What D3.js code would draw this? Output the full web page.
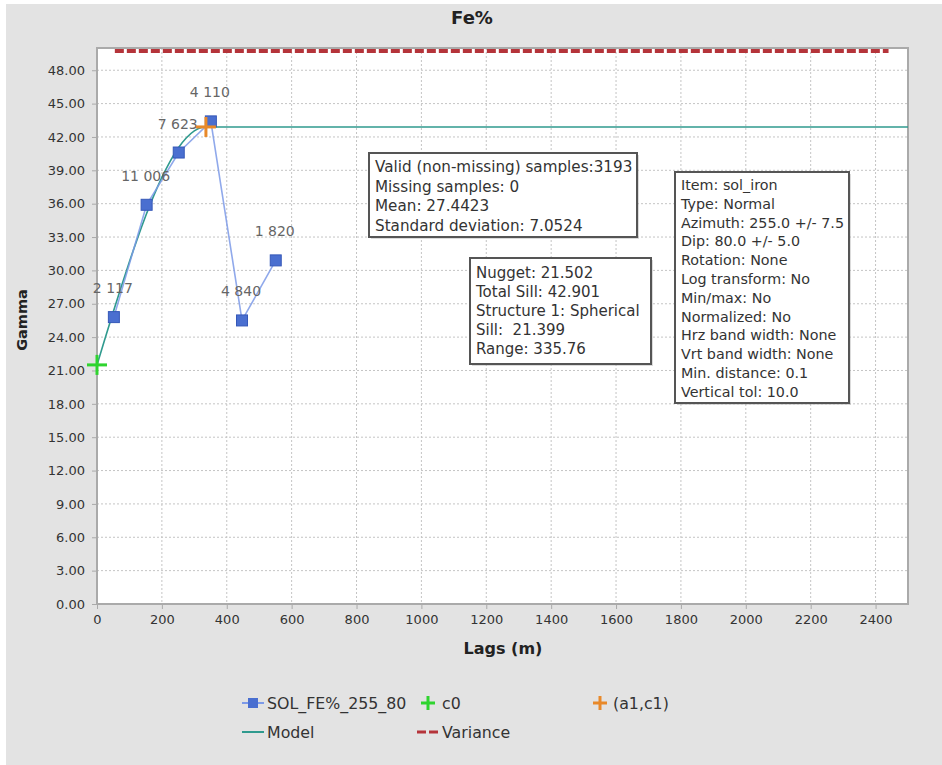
<!DOCTYPE html>
<html><head><meta charset="utf-8">
<script src="https://cdn.jsdelivr.net/npm/d3@7"></script>
<style>
html,body{margin:0;padding:0;background:#fff;}
svg text{font-family:"DejaVu Sans",Verdana,sans-serif;white-space:pre;}
</style></head>
<body><svg id="c" width="942" height="765"></svg>
<script>
// ---- data ----
const lags = [52, 153, 252, 351, 447, 551];
const gammaValues = [25.8, 35.9, 40.6, 43.4, 25.5, 30.9];
const pairCounts = ["2 117", "11 006", "7 623", "4 110", "4 840", "1 820"];
const nugget = 21.502, totalSill = 42.901, rangeA = 335.76;
const modelLags = [0, 25, 50, 75, 100, 125, 150, 175, 200, 225, 250, 275, 300, 325, 335.76];
const modelGamma = [21.50, 23.89, 26.25, 28.55, 30.78, 32.90, 34.89, 36.72, 38.36, 39.79, 40.99, 41.91, 42.55, 42.87, 42.90];
const modelFlatEnd = 2500;
const varianceValue = 49.74;
const varianceSpan = [55, 2440];
const xTicks = [0,200,400,600,800,1000,1200,1400,1600,1800,2000,2200,2400];
const yTicks = [0,3,6,9,12,15,18,21,24,27,30,33,36,39,42,45,48];
const statsText = ["Valid (non-missing) samples:3193","Missing samples: 0","Mean: 27.4423","Standard deviation: 7.0524"];
const modelText = ["Nugget: 21.502","Total Sill: 42.901","Structure 1: Spherical","Sill:  21.399","Range: 335.76"];
const paramText = ["Item: sol_iron","Type: Normal","Azimuth: 255.0 +/- 7.5","Dip: 80.0 +/- 5.0","Rotation: None","Log transform: No","Min/max: No","Normalized: No","Hrz band width: None","Vrt band width: None","Min. distance: 0.1","Vertical tol: 10.0"];

// ---- layout ----
const svg = d3.select("#c");
const L = 97, R = 908, T = 48, B = 604;
const x = d3.scaleLinear().domain([0, 2500]).range([L, R]);
const y = d3.scaleLinear().domain([0, 50]).range([B, T]);

svg.append("rect").attr("x",6).attr("y",4).attr("width",936).attr("height",761).attr("fill","#e3e3e3");
svg.append("rect").attr("x",L).attr("y",T).attr("width",R-L).attr("height",B-T).attr("fill","#fff");

// grid
const grid = svg.append("g");
grid.selectAll(".gx").data(xTicks).join("line")
  .attr("x1",d=>x(d)).attr("x2",d=>x(d)).attr("y1",T).attr("y2",B)
  .attr("stroke","#c4c4c4").attr("stroke-dasharray","2,2");
grid.selectAll(".gy").data(yTicks).join("line")
  .attr("x1",L).attr("x2",R).attr("y1",d=>y(d)).attr("y2",d=>y(d))
  .attr("stroke","#c4c4c4").attr("stroke-dasharray","2,2");

// border
svg.append("rect").attr("x",L).attr("y",T).attr("width",R-L).attr("height",B-T)
  .attr("fill","none").attr("stroke","#aaaaaa").attr("stroke-width",2);

// axes
const xa = svg.append("g").attr("transform",`translate(0,${B+1})`)
  .call(d3.axisBottom(x).tickValues(xTicks).tickFormat(d3.format("d")).tickSize(4).tickPadding(6));
const ya = svg.append("g").attr("transform",`translate(${L-1},0)`)
  .call(d3.axisLeft(y).tickValues(yTicks).tickFormat(d3.format(".2f")).tickSize(4).tickPadding(7));
[xa,ya].forEach(a=>{
  a.select(".domain").remove();
  a.selectAll("line").attr("stroke","#aaa");
  a.selectAll("text").attr("fill","#333").style("font-size","13px").style("font-family","DejaVu Sans, Verdana, sans-serif");
});

// titles
svg.append("text").attr("x",472).attr("y",24).attr("text-anchor","middle")
  .style("font-size","18px").style("font-weight","bold").attr("fill","#222").text("Fe%");
svg.append("text").attr("x",503).attr("y",654).attr("text-anchor","middle")
  .style("font-size","16px").style("font-weight","bold").attr("fill","#222").text("Lags (m)");
svg.append("text").attr("transform","translate(27,320) rotate(-90)").attr("text-anchor","middle")
  .style("font-size","14.5px").style("font-weight","bold").attr("fill","#222").text("Gamma");

// variance
svg.append("line").attr("x1",x(varianceSpan[0])).attr("x2",x(varianceSpan[1]))
  .attr("y1",y(varianceValue)).attr("y2",y(varianceValue))
  .attr("stroke","#b5343a").attr("stroke-width",4).attr("stroke-dasharray","9,3");

// model
const modelPts = modelLags.map((d,i)=>[d,modelGamma[i]]);
svg.append("path").datum(modelPts)
  .attr("d",d3.line().x(d=>x(d[0])).y(d=>y(d[1])).curve(d3.curveMonotoneX))
  .attr("fill","none").attr("stroke","#2f9a8e").attr("stroke-width",1.6);
svg.append("line").attr("x1",x(rangeA)).attr("x2",x(modelFlatEnd))
  .attr("y1",y(totalSill)).attr("y2",y(totalSill))
  .attr("stroke","#2f9a8e").attr("stroke-width",1.6);

// experimental
const pts = lags.map((d,i)=>[d,gammaValues[i]]);
svg.append("path").datum(pts)
  .attr("d",d3.line().x(d=>x(d[0])).y(d=>y(d[1])))
  .attr("fill","none").attr("stroke","#7d9ae8").attr("stroke-width",1.6).attr("opacity",0.85);
svg.selectAll(".pt").data(pts).join("rect")
  .attr("x",d=>x(d[0])-5.5).attr("y",d=>y(d[1])-5.5).attr("width",11).attr("height",11)
  .attr("fill","#4a6fd0").attr("stroke","#3558b8").attr("stroke-width",1);
svg.selectAll(".lbl").data(pts).join("text")
  .attr("x",d=>x(d[0])-1).attr("y",d=>y(d[1])-24).attr("text-anchor","middle")
  .style("font-size","14px").attr("fill","#666").text((d,i)=>pairCounts[i]);

// crosses
function cross(g,cx,cy,s,col,w){
  g.append("line").attr("x1",cx-s).attr("x2",cx+s).attr("y1",cy).attr("y2",cy).attr("stroke",col).attr("stroke-width",w);
  g.append("line").attr("x1",cx).attr("x2",cx).attr("y1",cy-s).attr("y2",cy+s).attr("stroke",col).attr("stroke-width",w);
}
cross(svg,x(0),y(nugget),10,"#2fd42f",3);
cross(svg,x(rangeA),y(totalSill),10,"#e8892a",3);

// text boxes
function box(x0,y0,w,h,lines,lh,startY,fs){
  const g = svg.append("g");
  g.append("rect").attr("x",x0+2).attr("y",y0+2).attr("width",w).attr("height",h).attr("fill","#999").attr("opacity",0.35);
  g.append("rect").attr("x",x0).attr("y",y0).attr("width",w).attr("height",h).attr("fill","#fff").attr("stroke","#555").attr("stroke-width",2);
  g.selectAll("text").data(lines).join("text")
    .attr("x",x0+6).attr("y",(d,i)=>y0+startY+i*lh)
    .style("font-size",fs+"px").attr("fill","#333").text(d=>d);
}
box(369,153,268,84,statsText,19.5,19,15.2);
box(470,258,181,106,modelText,19,20,15);
box(675,172,174,231,paramText,18.8,18,14.3);

// legend
const lg = svg.append("g");
const lfs = "15.8px";
lg.append("line").attr("x1",242).attr("x2",264).attr("y1",703).attr("y2",703).attr("stroke","#7d9ae8").attr("stroke-width",2);
lg.append("rect").attr("x",248).attr("y",698).attr("width",10).attr("height",10).attr("fill","#4a6fd0");
lg.append("text").attr("x",267).attr("y",709).style("font-size",lfs).attr("fill","#333").text("SOL_FE%_255_80");
cross(lg,428,703,7,"#2fd42f",3);
lg.append("text").attr("x",442).attr("y",709).style("font-size",lfs).attr("fill","#333").text("c0");
cross(lg,600,703,7,"#e8892a",3);
lg.append("text").attr("x",613).attr("y",709).style("font-size",lfs).attr("fill","#333").text("(a1,c1)");
lg.append("line").attr("x1",242).attr("x2",264).attr("y1",732).attr("y2",732).attr("stroke","#2f9a8e").attr("stroke-width",2);
lg.append("text").attr("x",267).attr("y",738).style("font-size",lfs).attr("fill","#333").text("Model");
lg.append("line").attr("x1",417).attr("x2",439).attr("y1",732).attr("y2",732).attr("stroke","#b5343a").attr("stroke-width",3).attr("stroke-dasharray","9,3");
lg.append("text").attr("x",442).attr("y",738).style("font-size",lfs).attr("fill","#333").text("Variance");
</script></body></html>
